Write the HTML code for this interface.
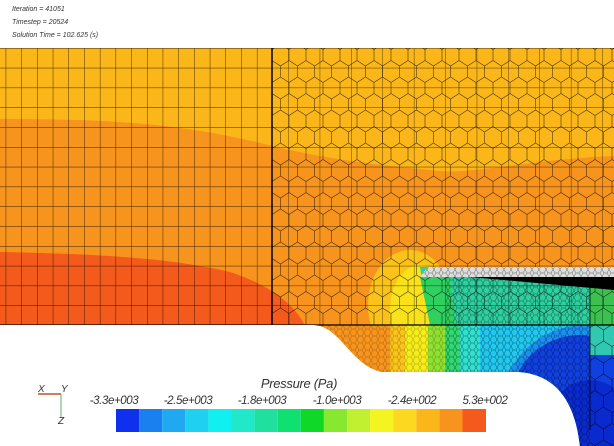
<!DOCTYPE html>
<html><head><meta charset="utf-8"><style>
html,body{margin:0;padding:0;background:#fff;width:614px;height:446px;overflow:hidden;}
svg{display:block;}
text{font-family:"Liberation Sans",sans-serif;font-style:italic;}
</style></head><body>
<svg width="614" height="446" viewBox="0 0 614 446" xmlns="http://www.w3.org/2000/svg">
<defs>
<pattern id="grid" x="5.7" y="48" width="15.7" height="19.8" patternUnits="userSpaceOnUse">
<path d="M0 0V19.8M0 0H15.7" stroke="#000" stroke-width="0.9" fill="none" opacity="0.8"/>
</pattern>
<pattern id="grid2" x="5.7" y="48" width="31.4" height="19.8" patternUnits="userSpaceOnUse">
<path d="M0 0V19.8M0 0H31.4" stroke="#000" stroke-width="0.9" fill="none" opacity="0.7"/>
</pattern>
<pattern id="hex" x="272" y="44" width="17" height="33" patternUnits="userSpaceOnUse">
<path d="M0 5.5L8.5 0L17 5.5V16.5L8.5 22L0 16.5Z M8.5 22V33" stroke="#000" stroke-width="0.6" fill="none" opacity="0.7"/>
</pattern>
<pattern id="fine" x="0" y="0" width="7" height="7" patternUnits="userSpaceOnUse">
<path d="M0 3.5L2 0H5L7 3.5L5 7H2Z" stroke="#000" stroke-width="0.4" fill="none" opacity="0.7"/>
</pattern>
<clipPath id="dom">
<path d="M0 48H614V446H580C575 400 555 375 520 372H382C350 365 340 325 313 325H0Z"/>
</clipPath>
</defs>
<text x="12" y="11" font-size="7" fill="#333">Iteration  = 41051</text>
<text x="12" y="24" font-size="7" fill="#333">Timestep = 20524</text>
<text x="12" y="37" font-size="7" fill="#333">Solution Time = 102.625 (s)</text>
<g clip-path="url(#dom)">
<rect x="0" y="48" width="614" height="398" fill="#fbb61a"/>
<path d="M0 119C100 119 180 122 272 146C330 160 380 165 430 170C470 176 520 160 614 156V446H0Z" fill="#f7941d"/>
<path d="M0 252C100 254 170 258 230 272C270 285 295 305 305 326H0Z" fill="#f45a1c"/>
<ellipse cx="410" cy="305" rx="42" ry="55" fill="#fbc31a"/>
<ellipse cx="420" cy="310" rx="30" ry="45" fill="#f9e21a"/>
<path d="M420 267L614 267V325H430Z" fill="#2fd0a0"/>
<path d="M420 277L450 277L455 325H430Z" fill="#30d060"/>
<path d="M590 277H614V325H590Z" fill="#3cc050"/>
<rect x="300" y="325" width="314" height="121" fill="#f7941d"/>
<path d="M390 325H614V446H390Z" fill="#fbc31a"/>
<path d="M405 325H614V446H405Z" fill="#f5ec1a"/>
<path d="M428 325H614V446H428Z" fill="#90e030"/>
<path d="M445 325H614V446H445Z" fill="#30d870"/>
<path d="M460 325H614V446H460Z" fill="#30e0d0"/>
<path d="M480 325H614V446H480Z" fill="#20c8f0"/>
<circle cx="585" cy="410" r="85" fill="#1a90f0"/>
<circle cx="580" cy="405" r="70" fill="#1040e0"/>
<circle cx="590" cy="420" r="40" fill="#0a2ad0"/>
<path d="M590 325H614V355H590Z" fill="#30c8b0"/>
<rect x="0" y="48" width="272" height="277" fill="url(#grid)"/>
<rect x="272" y="48" width="342" height="277" fill="url(#grid2)"/>
<rect x="272" y="48" width="342" height="277" fill="url(#hex)"/>
<rect x="445" y="277" width="145" height="169" fill="url(#fine)"/>
<rect x="300" y="325" width="145" height="60" fill="url(#fine)" opacity="0.6"/>
<rect x="590" y="325" width="30" height="121" fill="url(#hex)"/>
<path d="M428 267H614V277H420Z" fill="#ddd"/>
<path d="M428 267H614V277H420Z" fill="url(#fine)"/>
<path d="M470 277H614V290Z" fill="#000"/>
<line x1="0" y1="325" x2="614" y2="325" stroke="#000" stroke-width="1.2"/>
<line x1="272" y1="48" x2="272" y2="325" stroke="#000" stroke-width="1.5"/>
<line x1="590" y1="277" x2="590" y2="430" stroke="#000" stroke-width="0.8"/>
</g>
<line x1="38" y1="394" x2="61" y2="394" stroke="#c0502a" stroke-width="1.5"/>
<line x1="61" y1="394" x2="61" y2="418" stroke="#6a6" stroke-width="1"/>
<text x="38" y="392" font-size="10" fill="#333">X</text>
<text x="61" y="392" font-size="10" fill="#333">Y</text>
<text x="58" y="424" font-size="10" fill="#333">Z</text>
<text x="299" y="388" font-size="13" fill="#333" text-anchor="middle" letter-spacing="-0.3">Pressure (Pa)</text>
<g font-size="11.5" fill="#333" text-anchor="middle" letter-spacing="-0.4">
<text x="114" y="404">-3.3e+003</text>
<text x="188" y="404">-2.5e+003</text>
<text x="262" y="404">-1.8e+003</text>
<text x="337" y="404">-1.0e+003</text>
<text x="412" y="404">-2.4e+002</text>
<text x="485" y="404">5.3e+002</text>
</g>
<g transform="translate(116,409)">
<rect x="0" y="0" width="23.1" height="23" fill="#1030f0"/>
<rect x="23.1" y="0" width="23.1" height="23" fill="#1a80f0"/>
<rect x="46.2" y="0" width="23.1" height="23" fill="#20a8f0"/>
<rect x="69.3" y="0" width="23.1" height="23" fill="#20d0f0"/>
<rect x="92.4" y="0" width="23.1" height="23" fill="#10f0f0"/>
<rect x="115.5" y="0" width="23.1" height="23" fill="#20e8c8"/>
<rect x="138.6" y="0" width="23.1" height="23" fill="#20e0a0"/>
<rect x="161.7" y="0" width="23.1" height="23" fill="#10e070"/>
<rect x="184.8" y="0" width="23.1" height="23" fill="#10d828"/>
<rect x="207.9" y="0" width="23.1" height="23" fill="#88e830"/>
<rect x="231" y="0" width="23.1" height="23" fill="#c0f030"/>
<rect x="254.1" y="0" width="23.1" height="23" fill="#f4f420"/>
<rect x="277.2" y="0" width="23.1" height="23" fill="#fcd820"/>
<rect x="300.3" y="0" width="23.1" height="23" fill="#fbb61a"/>
<rect x="323.4" y="0" width="23.1" height="23" fill="#f8941d"/>
<rect x="346.5" y="0" width="23.5" height="23" fill="#f45a1c"/>
</g>
</svg>
</body></html>
